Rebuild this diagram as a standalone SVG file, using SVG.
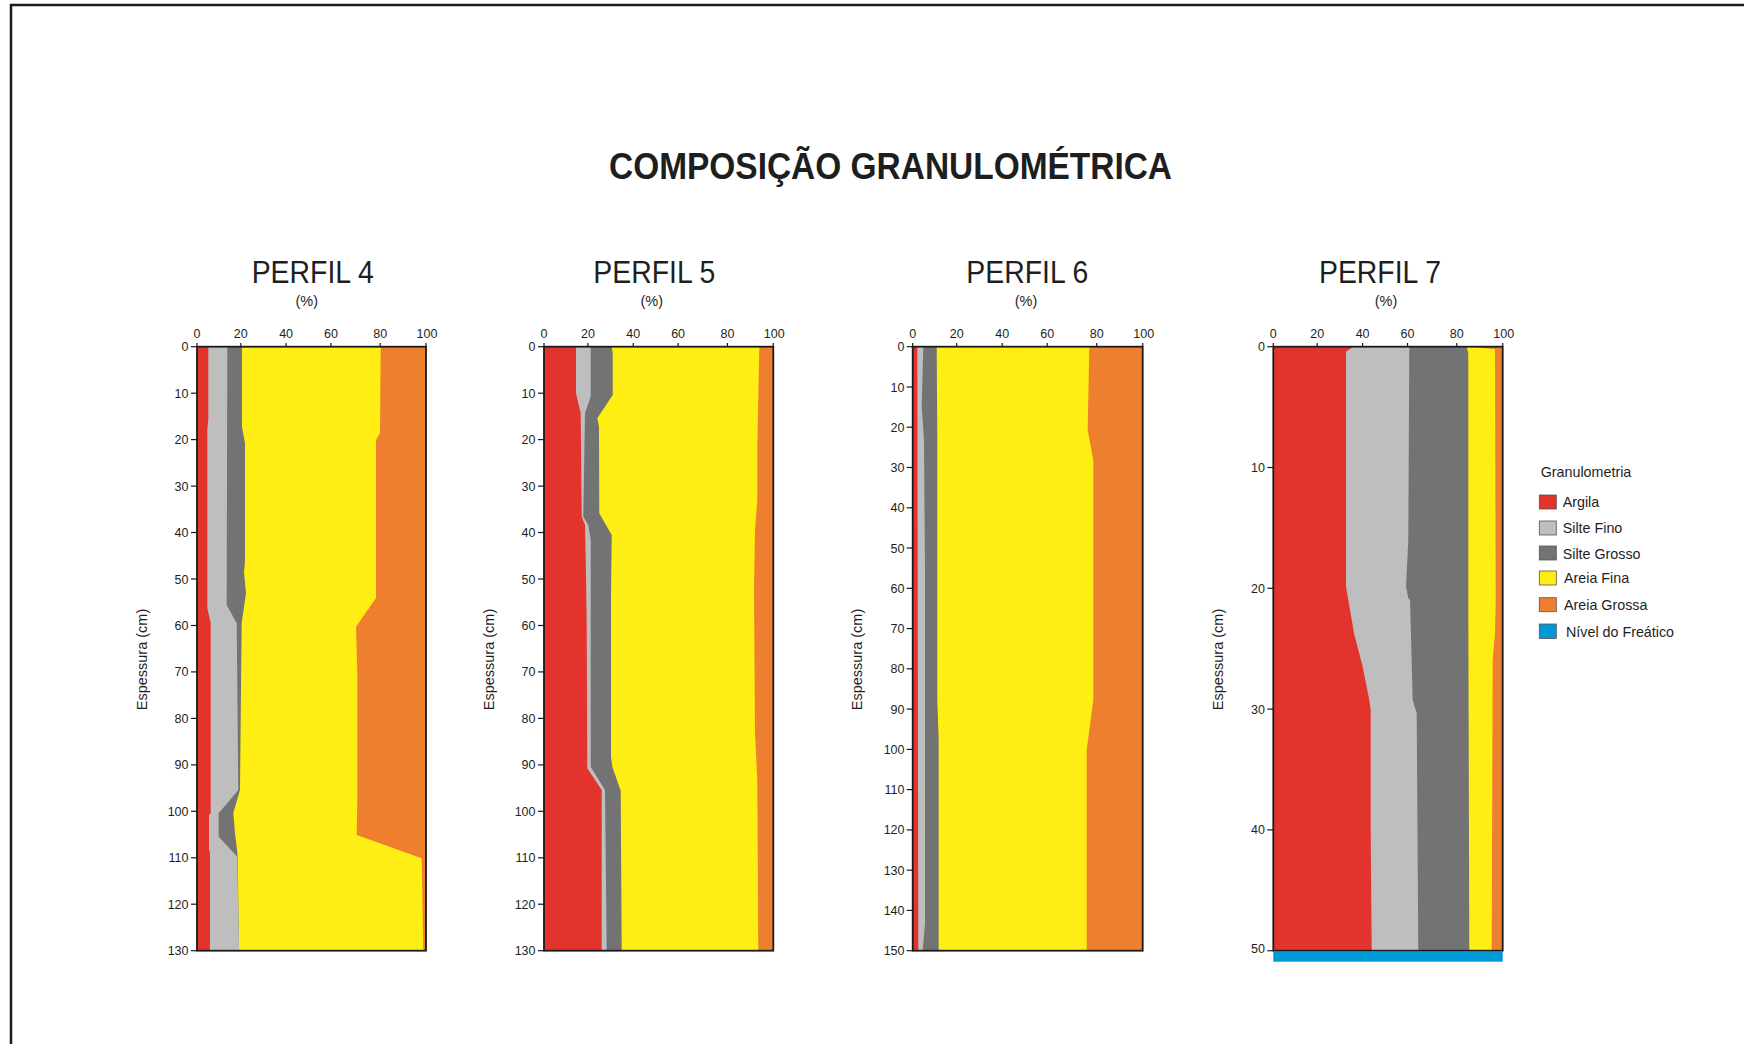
<svg xmlns="http://www.w3.org/2000/svg" width="1744" height="1044" viewBox="0 0 1744 1044">
<style>
  text { font-family: "Liberation Sans", Arial, sans-serif; fill: #1e1e1e; }
  .title { font-size: 37px; font-weight: bold; text-anchor: middle; }
  .ptitle { font-size: 31px; text-anchor: middle; }
  .pct { font-size: 14.5px; text-anchor: middle; }
  .tx { font-size: 12.5px; text-anchor: middle; }
  .ty { font-size: 12.5px; text-anchor: end; }
  .ylab { font-size: 14.5px; text-anchor: middle; }
  .leg { font-size: 14.3px; }
  .frame { fill: none; stroke: #1a1a1a; stroke-width: 1.8; }
  .tick { stroke: #1a1a1a; stroke-width: 1.2; }
  .argila { fill: #e3332d; }
  .sfino { fill: #bebebe; }
  .sgrosso { fill: #737373; }
  .afina { fill: #ffee14; }
  .agrossa { fill: #ed7f2f; }
  .freat { fill: #0099d6; }
  .sw { stroke: #555; stroke-width: 0.8; }
</style>
<rect width="1744" height="1044" fill="#ffffff"/>
<line x1="10" y1="5" x2="1744" y2="5" stroke="#1a1a1a" stroke-width="2.5"/>
<line x1="11" y1="4" x2="11" y2="1044" stroke="#1a1a1a" stroke-width="2.5"/>
<text class="title" x="890.5" y="178.5" textLength="563" lengthAdjust="spacingAndGlyphs">COMPOSIÇÃO GRANULOMÉTRICA</text>

<!-- PERFIL 4 -->
<g id="perfil4">
  <text class="ptitle" x="312.7" y="282.7" textLength="122" lengthAdjust="spacingAndGlyphs">PERFIL 4</text>
  <text class="pct" x="306.7" y="306">(%)</text>
  <rect class="agrossa" x="197" y="346.7" width="229" height="604"/>
  <polygon class="afina" points="197,346.7 380.7,346.7 380,433 376,440 376,598 356,626.7 357.3,673 357.3,800 356.7,835 421.7,858.3 423.3,950.7 197,950.7"/>
  <polygon class="sgrosso" points="197,346.7 242,346.7 242,426.7 245,443.3 245,560 244,573 246,593 241.7,623 240.7,718 240,790 233.3,813 235,833 236.7,846.7 237.7,856.7 239,950.7 197,950.7"/>
  <polygon class="sfino" points="197,346.7 227.3,346.7 226.7,605 236.7,623.3 238.3,790 218.7,813.3 218.7,836.7 237.3,856.7 239,950.7 197,950.7"/>
  <polygon class="argila" points="197,346.7 208.3,346.7 208.3,420 207.3,430 207.3,608 210.7,623 210.7,813 209,815 209,850 210,852 210,950.7 197,950.7"/>
  <rect class="frame" x="197" y="346.7" width="229" height="604"/>
  <g class="tick">
    <line x1="197" y1="343" x2="197" y2="346.7"/><line x1="240.8" y1="343" x2="240.8" y2="346.7"/><line x1="286.1" y1="343" x2="286.1" y2="346.7"/><line x1="330.9" y1="343" x2="330.9" y2="346.7"/><line x1="380.2" y1="343" x2="380.2" y2="346.7"/><line x1="426" y1="343" x2="426" y2="346.7"/>
    <line x1="191" y1="346.7" x2="197" y2="346.7"/><line x1="191" y1="393.2" x2="197" y2="393.2"/><line x1="191" y1="439.6" x2="197" y2="439.6"/><line x1="191" y1="486.1" x2="197" y2="486.1"/><line x1="191" y1="532.5" x2="197" y2="532.5"/><line x1="191" y1="579" x2="197" y2="579"/><line x1="191" y1="625.5" x2="197" y2="625.5"/><line x1="191" y1="671.9" x2="197" y2="671.9"/><line x1="191" y1="718.4" x2="197" y2="718.4"/><line x1="191" y1="764.9" x2="197" y2="764.9"/><line x1="191" y1="811.3" x2="197" y2="811.3"/><line x1="191" y1="857.8" x2="197" y2="857.8"/><line x1="191" y1="904.2" x2="197" y2="904.2"/><line x1="191" y1="950.7" x2="197" y2="950.7"/>
  </g>
  <text class="tx" x="197" y="338.3">0</text><text class="tx" x="240.8" y="338.3">20</text><text class="tx" x="286.1" y="338.3">40</text><text class="tx" x="330.9" y="338.3">60</text><text class="tx" x="380.2" y="338.3">80</text><text class="tx" x="427" y="338.3">100</text>
  <text class="ty" x="188.5" y="351.2">0</text><text class="ty" x="188.5" y="397.7">10</text><text class="ty" x="188.5" y="444.1">20</text><text class="ty" x="188.5" y="490.6">30</text><text class="ty" x="188.5" y="537">40</text><text class="ty" x="188.5" y="583.5">50</text><text class="ty" x="188.5" y="630">60</text><text class="ty" x="188.5" y="676.4">70</text><text class="ty" x="188.5" y="722.9">80</text><text class="ty" x="188.5" y="769.4">90</text><text class="ty" x="188.5" y="815.8">100</text><text class="ty" x="188.5" y="862.3">110</text><text class="ty" x="188.5" y="908.7">120</text><text class="ty" x="188.5" y="955.2">130</text>
  <text class="ylab" transform="translate(146.5,659.5) rotate(-90)">Espessura (cm)</text>
</g>

<!-- PERFIL 5 -->
<g id="perfil5">
  <text class="ptitle" x="654.3" y="283" textLength="122" lengthAdjust="spacingAndGlyphs">PERFIL 5</text>
  <text class="pct" x="651.7" y="306">(%)</text>
  <rect class="agrossa" x="544" y="346.7" width="229.3" height="604"/>
  <polygon class="afina" points="544,346.7 759.3,346.7 757.3,446.7 757.3,500 755,530 754,590 755,733.3 757.3,780 758.3,950.7 544,950.7"/>
  <polygon class="sgrosso" points="544,346.7 611.7,346.7 612.7,353.3 612.7,395 597.3,418.3 599,426.7 599.3,513.3 611.7,535 611,600 611,756.7 612.3,766.7 620.7,790.7 621.7,950.7 544,950.7"/>
  <polygon class="sfino" points="544,346.7 590.7,346.7 590.7,396.7 585,413.3 583.3,516.7 588.3,525 590.7,540 590.7,766.7 605,790 606.7,950.7 544,950.7"/>
  <polygon class="argila" points="544,346.7 576,346.7 576,393.3 580.7,413.3 581.7,516.7 585,525 586,573.3 586.7,626 587.3,768.3 601.7,790 601.7,950.7 544,950.7"/>
  <rect class="frame" x="544" y="346.7" width="229.3" height="604"/>
  <g class="tick">
    <line x1="544" y1="343" x2="544" y2="346.7"/><line x1="587.9" y1="343" x2="587.9" y2="346.7"/><line x1="633.2" y1="343" x2="633.2" y2="346.7"/><line x1="678.1" y1="343" x2="678.1" y2="346.7"/><line x1="727.4" y1="343" x2="727.4" y2="346.7"/><line x1="773.3" y1="343" x2="773.3" y2="346.7"/>
    <line x1="538" y1="346.7" x2="544" y2="346.7"/><line x1="538" y1="393.2" x2="544" y2="393.2"/><line x1="538" y1="439.6" x2="544" y2="439.6"/><line x1="538" y1="486.1" x2="544" y2="486.1"/><line x1="538" y1="532.5" x2="544" y2="532.5"/><line x1="538" y1="579" x2="544" y2="579"/><line x1="538" y1="625.5" x2="544" y2="625.5"/><line x1="538" y1="671.9" x2="544" y2="671.9"/><line x1="538" y1="718.4" x2="544" y2="718.4"/><line x1="538" y1="764.9" x2="544" y2="764.9"/><line x1="538" y1="811.3" x2="544" y2="811.3"/><line x1="538" y1="857.8" x2="544" y2="857.8"/><line x1="538" y1="904.2" x2="544" y2="904.2"/><line x1="538" y1="950.7" x2="544" y2="950.7"/>
  </g>
  <text class="tx" x="544" y="338.3">0</text><text class="tx" x="587.9" y="338.3">20</text><text class="tx" x="633.2" y="338.3">40</text><text class="tx" x="678.1" y="338.3">60</text><text class="tx" x="727.4" y="338.3">80</text><text class="tx" x="774.3" y="338.3">100</text>
  <text class="ty" x="535.5" y="351.2">0</text><text class="ty" x="535.5" y="397.7">10</text><text class="ty" x="535.5" y="444.1">20</text><text class="ty" x="535.5" y="490.6">30</text><text class="ty" x="535.5" y="537">40</text><text class="ty" x="535.5" y="583.5">50</text><text class="ty" x="535.5" y="630">60</text><text class="ty" x="535.5" y="676.4">70</text><text class="ty" x="535.5" y="722.9">80</text><text class="ty" x="535.5" y="769.4">90</text><text class="ty" x="535.5" y="815.8">100</text><text class="ty" x="535.5" y="862.3">110</text><text class="ty" x="535.5" y="908.7">120</text><text class="ty" x="535.5" y="955.2">130</text>
  <text class="ylab" transform="translate(493.5,659.5) rotate(-90)">Espessura (cm)</text>
</g>

<!-- PERFIL 6 -->
<g id="perfil6">
  <text class="ptitle" x="1027.3" y="283" textLength="122" lengthAdjust="spacingAndGlyphs">PERFIL 6</text>
  <text class="pct" x="1026" y="306">(%)</text>
  <rect class="agrossa" x="912.7" y="346.7" width="230" height="604"/>
  <polygon class="afina" points="912.7,346.7 1089.3,346.7 1087.7,430 1093.3,460 1093.3,700 1086.7,750 1086.7,950.7 912.7,950.7"/>
  <polygon class="sgrosso" points="912.7,346.7 936.7,346.7 937.3,440 937.3,700 938.7,740 938.7,950.7 912.7,950.7"/>
  <polygon class="sfino" points="912.7,346.7 923.3,346.7 921.7,406.7 924,440 925,573 925,923.3 922.7,950.7 912.7,950.7"/>
  <polygon class="argila" points="912.7,346.7 917.3,346.7 918.3,950.7 912.7,950.7"/>
  <rect class="frame" x="912.7" y="346.7" width="230" height="604"/>
  <g class="tick">
    <line x1="912.7" y1="343" x2="912.7" y2="346.7"/><line x1="956.7" y1="343" x2="956.7" y2="346.7"/><line x1="1002.2" y1="343" x2="1002.2" y2="346.7"/><line x1="1047.2" y1="343" x2="1047.2" y2="346.7"/><line x1="1096.7" y1="343" x2="1096.7" y2="346.7"/><line x1="1142.7" y1="343" x2="1142.7" y2="346.7"/>
    <line x1="906.7" y1="346.7" x2="912.7" y2="346.7"/><line x1="906.7" y1="387" x2="912.7" y2="387"/><line x1="906.7" y1="427.2" x2="912.7" y2="427.2"/><line x1="906.7" y1="467.5" x2="912.7" y2="467.5"/><line x1="906.7" y1="507.8" x2="912.7" y2="507.8"/><line x1="906.7" y1="548" x2="912.7" y2="548"/><line x1="906.7" y1="588.3" x2="912.7" y2="588.3"/><line x1="906.7" y1="628.6" x2="912.7" y2="628.6"/><line x1="906.7" y1="668.8" x2="912.7" y2="668.8"/><line x1="906.7" y1="709.1" x2="912.7" y2="709.1"/><line x1="906.7" y1="749.4" x2="912.7" y2="749.4"/><line x1="906.7" y1="789.6" x2="912.7" y2="789.6"/><line x1="906.7" y1="829.9" x2="912.7" y2="829.9"/><line x1="906.7" y1="870.2" x2="912.7" y2="870.2"/><line x1="906.7" y1="910.4" x2="912.7" y2="910.4"/><line x1="906.7" y1="950.7" x2="912.7" y2="950.7"/>
  </g>
  <text class="tx" x="912.7" y="338.3">0</text><text class="tx" x="956.7" y="338.3">20</text><text class="tx" x="1002.2" y="338.3">40</text><text class="tx" x="1047.2" y="338.3">60</text><text class="tx" x="1096.7" y="338.3">80</text><text class="tx" x="1143.7" y="338.3">100</text>
  <text class="ty" x="904.5" y="351.2">0</text><text class="ty" x="904.5" y="391.5">10</text><text class="ty" x="904.5" y="431.7">20</text><text class="ty" x="904.5" y="472">30</text><text class="ty" x="904.5" y="512.3">40</text><text class="ty" x="904.5" y="552.5">50</text><text class="ty" x="904.5" y="592.8">60</text><text class="ty" x="904.5" y="633.1">70</text><text class="ty" x="904.5" y="673.3">80</text><text class="ty" x="904.5" y="713.6">90</text><text class="ty" x="904.5" y="753.9">100</text><text class="ty" x="904.5" y="794.1">110</text><text class="ty" x="904.5" y="834.4">120</text><text class="ty" x="904.5" y="874.7">130</text><text class="ty" x="904.5" y="914.9">140</text><text class="ty" x="904.5" y="955.2">150</text>
  <text class="ylab" transform="translate(862.2,659.5) rotate(-90)">Espessura (cm)</text>
</g>

<!-- PERFIL 7 -->
<g id="perfil7">
  <text class="ptitle" x="1380" y="283" textLength="122" lengthAdjust="spacingAndGlyphs">PERFIL 7</text>
  <text class="pct" x="1386" y="306">(%)</text>
  <rect class="agrossa" x="1273.3" y="346.7" width="229.4" height="604"/>
  <polygon class="afina" points="1273.3,346.7 1470,346.7 1495,349.3 1495.7,600 1495,633.3 1492.7,660 1491.7,950.7 1273.3,950.7"/>
  <polygon class="sgrosso" points="1273.3,346.7 1466.7,346.7 1468.3,353.3 1468.3,600 1469.3,950.7 1273.3,950.7"/>
  <polygon class="sfino" points="1273.3,346.7 1409.3,346.7 1408.3,540 1406,586.7 1408.3,598.3 1410,600 1412.7,700 1416.7,713.3 1418.3,950.7 1273.3,950.7"/>
  <polygon class="argila" points="1273.3,346.7 1353.3,346.7 1346,351.7 1346,586.7 1348.3,600 1354,633.3 1362.7,666.7 1369.3,700 1370.7,710 1370.7,833.3 1371.7,950.7 1273.3,950.7"/>
  <rect class="freat" x="1273.3" y="951.7" width="229.4" height="10"/>
  <rect class="frame" x="1273.3" y="346.7" width="229.4" height="604"/>
  <g class="tick">
    <line x1="1273.3" y1="343" x2="1273.3" y2="346.7"/><line x1="1317.2" y1="343" x2="1317.2" y2="346.7"/><line x1="1362.6" y1="343" x2="1362.6" y2="346.7"/><line x1="1407.5" y1="343" x2="1407.5" y2="346.7"/><line x1="1456.8" y1="343" x2="1456.8" y2="346.7"/><line x1="1502.7" y1="343" x2="1502.7" y2="346.7"/>
    <line x1="1267.3" y1="346.7" x2="1273.3" y2="346.7"/><line x1="1267.3" y1="467.5" x2="1273.3" y2="467.5"/><line x1="1267.3" y1="588.3" x2="1273.3" y2="588.3"/><line x1="1267.3" y1="709.1" x2="1273.3" y2="709.1"/><line x1="1267.3" y1="829.9" x2="1273.3" y2="829.9"/><line x1="1267.3" y1="950.7" x2="1273.3" y2="950.7"/>
  </g>
  <text class="tx" x="1273.3" y="338.3">0</text><text class="tx" x="1317.2" y="338.3">20</text><text class="tx" x="1362.6" y="338.3">40</text><text class="tx" x="1407.5" y="338.3">60</text><text class="tx" x="1456.8" y="338.3">80</text><text class="tx" x="1503.7" y="338.3">100</text>
  <text class="ty" x="1265" y="351.2">0</text><text class="ty" x="1265" y="472">10</text><text class="ty" x="1265" y="592.8">20</text><text class="ty" x="1265" y="713.6">30</text><text class="ty" x="1265" y="834.4">40</text><text class="ty" x="1265" y="953.2">50</text>
  <text class="ylab" transform="translate(1222.8,659.5) rotate(-90)">Espessura (cm)</text>
</g>

<!-- Legend -->
<g id="legenda">
  <text class="leg" x="1540.7" y="476.7">Granulometria</text>
  <rect class="argila sw" x="1539.3" y="495" width="17" height="14"/>
  <text class="leg" x="1562.7" y="506.7">Argila</text>
  <rect class="sfino sw" x="1539.3" y="521" width="17" height="14"/>
  <text class="leg" x="1562.7" y="532.7">Silte Fino</text>
  <rect class="sgrosso sw" x="1539.3" y="546" width="17" height="14"/>
  <text class="leg" x="1562.7" y="559">Silte Grosso</text>
  <rect class="afina sw" x="1539.3" y="571" width="17" height="14"/>
  <text class="leg" x="1564" y="582.7">Areia Fina</text>
  <rect class="agrossa sw" x="1539.3" y="597.7" width="17" height="14"/>
  <text class="leg" x="1564" y="610">Areia Grossa</text>
  <rect class="freat sw" x="1539.3" y="624" width="17" height="14.5"/>
  <text class="leg" x="1566" y="636.7">Nível do Freático</text>
</g>
</svg>
